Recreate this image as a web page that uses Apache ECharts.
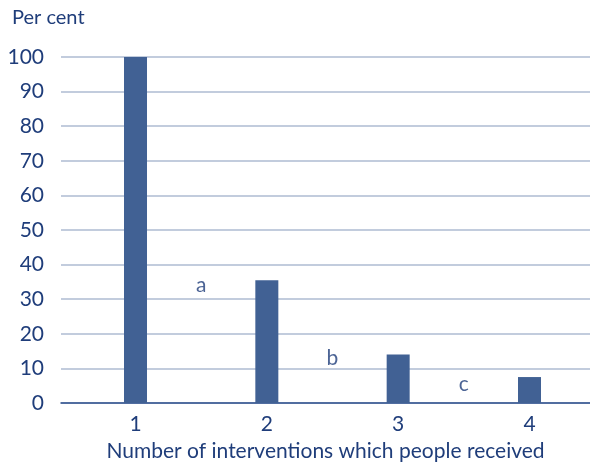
<!DOCTYPE html>
<html>
<head>
<meta charset="utf-8">
<script src="https://cdn.jsdelivr.net/npm/echarts@6/dist/echarts.min.js"></script>
<style>
  html, body { margin: 0; padding: 0; background: #ffffff; }
  #chart { width: 590px; height: 468px; }
</style>
</head>
<body>
<div id="chart"></div>
<script>
// Number of interventions received, share of people (per cent)
const categories = [1, 2, 3, 4];
const values = [100, 35.5, 14, 7.5];
const tickLabels = ['1', '2', '3', '4'];

// Annotation letters between the bars
const noteLetters = ['a', 'b', 'c'];
const noteX = [1.5, 2.5, 3.5];
const noteY = [34, 13, 5.5];

const textColor = '#1F3D7A';
const fontFamily = 'Lato, "DejaVu Sans", sans-serif';

const chart = echarts.init(document.getElementById('chart'));

chart.setOption({
  backgroundColor: '#ffffff',
  animation: false,
  title: {
    text: 'Per cent',
    left: 7,
    top: 3,
    textStyle: { color: textColor, fontSize: 20, fontWeight: 'normal', fontFamily: fontFamily }
  },
  grid: { left: 61, right: 0, top: 57, bottom: 65, containLabel: false, outerBoundsMode: 'none' },
  xAxis: {
    type: 'value',
    min: 0.4327,
    max: 4.4607,
    name: 'Number of interventions which people received',
    nameLocation: 'middle',
    nameGap: 38,
    nameTextStyle: { color: textColor, fontSize: 21, fontFamily: fontFamily },
    axisLine: { show: true, onZero: true, lineStyle: { color: '#2C4E8C', width: 1.5 } },
    axisTick: { show: false },
    splitLine: { show: false },
    axisLabel: {
      customValues: categories,
      formatter: v => tickLabels[categories.indexOf(v)],
      color: textColor,
      fontSize: 21,
      fontFamily: fontFamily,
      margin: 11
    }
  },
  yAxis: {
    type: 'value',
    min: 0,
    max: 100,
    interval: 10,
    axisLine: { show: false },
    axisTick: { show: false },
    splitLine: { show: true, lineStyle: { color: '#AEBBD2', width: 1.5 } },
    axisLabel: { color: textColor, fontSize: 21, fontFamily: fontFamily, margin: 17 }
  },
  series: [
    {
      type: 'bar',
      data: categories.map((c, i) => [c, values[i]]),
      barWidth: 23,
      itemStyle: { color: '#416194' },
      z: 3
    },
    {
      type: 'scatter',
      data: noteX.map((x, i) => ({ value: [x, noteY[i]], name: noteLetters[i] })),
      symbolSize: 0,
      silent: true,
      label: {
        show: true,
        position: 'inside',
        formatter: p => p.name,
        color: textColor,
        fontSize: 21,
        fontFamily: fontFamily
      }
    }
  ]
});
</script>
</body>
</html>
